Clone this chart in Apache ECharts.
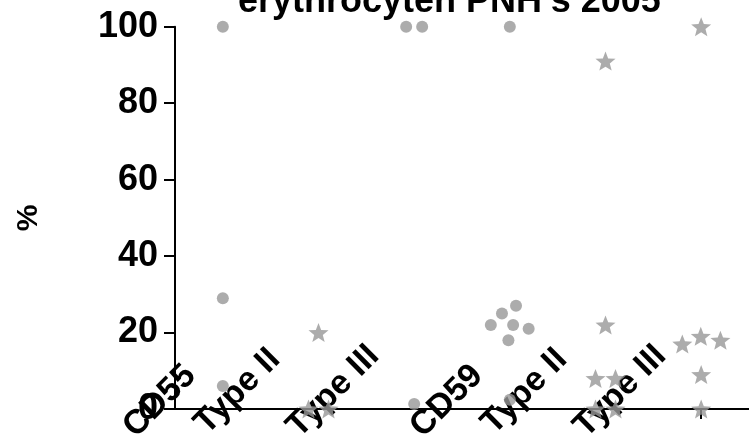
<!DOCTYPE html>
<html><head><meta charset="utf-8">
<script src="https://cdn.jsdelivr.net/npm/echarts@6/dist/echarts.min.js"></script>
<style>html,body{margin:0;padding:0;background:#fff}#c{width:749px;height:446px}</style>
</head><body><div id="c"></div>
<script>
// ---- data ----
const titleText = "erythrocyten PNH's 2005";
const yName = '%';
const categories = ['CD55', 'Type II', 'Type III', 'CD59', 'Type II', 'Type III'];
const colCD55 = [100, 29, 6];
const colCD55TypeII = [20, 0, 0];
const colCD55TypeIII = [100, 100, 1.3];
const colCD59 = [100, 22, 25, 21, 27, 18, 22, 2.4];
const colCD59TypeII = [91, 22, 8, 8, 0, 0];
const colCD59TypeIII = [100, 19, 17, 18, 9, 0];
const yMin = 0, yMax = 100, yStep = 20;

// ---- layout / style ----
const FONT = '"Liberation Sans", Arial, Helvetica, sans-serif';
const W = 749, H = 446;
const G = {left: 175, right: 0, top: 26.7, bottom: 37};
const plotW = W - G.left - G.right;
const plotH = H - G.top - G.bottom;
const pxX = plotW / categories.length;
const pxY = plotH / (yMax - yMin);
const GREY = '#979797';

function starPath() {
  let d = '';
  for (let i = 0; i < 10; i++) {
    const r = i % 2 ? 0.43 : 1;
    const a = -Math.PI / 2 + i * Math.PI / 5;
    d += (i ? 'L' : 'M') + (r * Math.cos(a)).toFixed(4) + ' ' + (r * Math.sin(a)).toFixed(4) + ' ';
  }
  return 'path://' + d + 'Z';
}
const STAR = starPath();

// simple beeswarm: horizontal offsets (in category units) so equal values do not overlap
function swarm(vals, D) {
  const placed = [];
  vals.forEach(v => {
    const y = v * pxY;
    const cands = [0];
    placed.forEach(p => {
      const dy = Math.abs(p.y - y);
      if (dy < D) { const dx = Math.sqrt(D * D - dy * dy); cands.push(p.x + dx, p.x - dx); }
    });
    cands.sort((a, b) => Math.abs(a) - Math.abs(b) || a - b);
    const x = cands.find(c => placed.every(p => Math.hypot(p.x - c, p.y - y) >= D - 0.01));
    placed.push({x, y});
  });
  const n = placed.length, comp = new Array(n).fill(-1);
  let k = 0;
  for (let i = 0; i < n; i++) {
    if (comp[i] >= 0) continue;
    const st = [i]; comp[i] = k;
    while (st.length) {
      const a = st.pop();
      for (let j = 0; j < n; j++) {
        if (comp[j] < 0 && Math.hypot(placed[a].x - placed[j].x, placed[a].y - placed[j].y) < D + 0.5) { comp[j] = k; st.push(j); }
      }
    }
    k++;
  }
  for (let c = 0; c < k; c++) {
    const m = placed.filter((p, i) => comp[i] === c);
    const mean = m.reduce((s, p) => s + p.x, 0) / m.length;
    m.forEach(p => p.x -= mean);
  }
  return placed.map(p => p.x / pxX);
}

const columns = [colCD55, colCD55TypeII, colCD55TypeIII, colCD59, colCD59TypeII, colCD59TypeIII];
const isStar = [false, true, false, false, true, true];

const series = columns.map((vals, ci) => {
  const star = isStar[ci];
  const offs = swarm(vals, star ? 20 : 16);
  return {
    type: 'scatter', xAxisIndex: 0, yAxisIndex: 0, clip: false,
    symbol: star ? STAR : 'circle',
    symbolSize: star ? [20, 19] : 12,
    itemStyle: {color: GREY},
    data: vals.map((v, i) => [ci + offs[i], v]),
    z: 3
  };
});

function labelAxis(gridIndex, keep) {
  return {
    type: 'category', gridIndex, data: categories, boundaryGap: true, position: 'bottom',
    axisLine: {show: false}, axisTick: {show: false}, splitLine: {show: false},
    axisLabel: {interval: 0, rotate: 45, align: 'center', verticalAlign: 'middle', margin: 0,
      formatter: v => keep(v) ? v : '',
      fontFamily: FONT, fontSize: 34, fontWeight: 'bold', color: '#000', hideOverlap: false}
  };
}

const chart = echarts.init(document.getElementById('c'), null, {renderer: 'canvas'});
chart.setOption({
  animation: false,
  backgroundColor: '#fff',
  title: {
    text: titleText, left: 233, top: -21,
    textStyle: {fontFamily: FONT, fontSize: 36, fontWeight: 'bold', color: '#000'}
  },
  grid: [
    {left: G.left, right: G.right, top: G.top, bottom: G.bottom},
    {left: G.left - 63, right: 63, top: 0, bottom: 34},
    {left: G.left - 81, right: 81, top: 0, bottom: 54}
  ],
  xAxis: [
    {type: 'value', gridIndex: 0, min: -0.5, max: categories.length - 0.5, show: false, position: 'bottom'},
    {type: 'category', gridIndex: 0, data: categories, boundaryGap: true, position: 'bottom',
     axisLine: {show: true, onZero: false, lineStyle: {color: '#000', width: 2}},
     axisTick: {show: true, alignWithLabel: true, interval: (i) => i === categories.length - 1, length: 10, lineStyle: {color: '#000', width: 2}},
     axisLabel: {show: false}, splitLine: {show: false}},
    labelAxis(1, v => v.startsWith('CD')),
    labelAxis(2, v => !v.startsWith('CD'))
  ],
  yAxis: [
    {type: 'value', gridIndex: 0, min: yMin, max: yMax, interval: yStep, position: 'left',
     name: yName, nameLocation: 'middle', nameRotate: 90, nameGap: 131,
     nameTextStyle: {fontFamily: FONT, fontSize: 30, fontWeight: 'bold', color: '#000'},
     axisLine: {show: true, onZero: false, lineStyle: {color: '#000', width: 2}},
     axisTick: {show: true, length: 11, lineStyle: {color: '#000', width: 2}},
     axisLabel: {margin: 17, fontFamily: FONT, fontSize: 36, fontWeight: 'bold', color: '#000'},
     splitLine: {show: false}},
    {type: 'value', gridIndex: 1, show: false},
    {type: 'value', gridIndex: 2, show: false}
  ],
  series: series
});
</script>
</body></html>
